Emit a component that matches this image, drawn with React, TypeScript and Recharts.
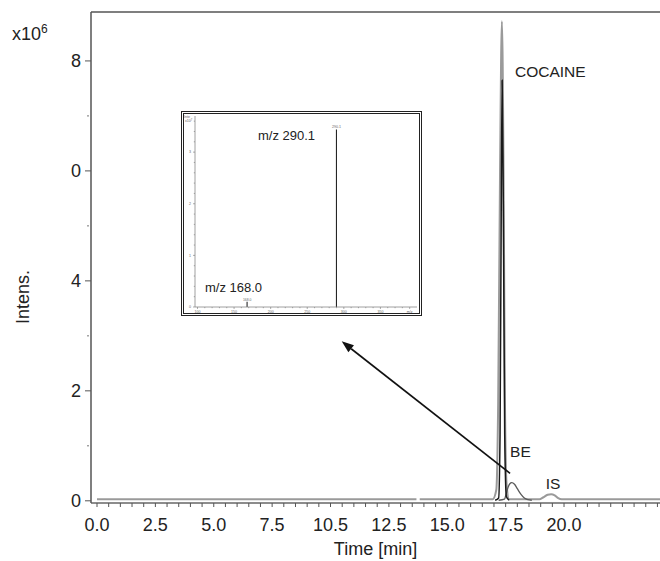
import React from 'react';
import {
  LineChart, Line, XAxis, YAxis, ReferenceLine, ReferenceDot,
  BarChart, Bar,
} from 'recharts';

const FONT = '"Liberation Sans", Arial, Helvetica, sans-serif';

// chromatogram, time in min, intensity in 1e6 counts
const ticTimes = [0, 13.68, 13.75, 13.82, 16.95, 17.1, 17.18, 17.26, 17.34, 17.41, 17.47, 17.54, 17.65, 18.95, 19.1, 19.3, 19.45, 19.6, 19.75, 19.9, 24.11];
const ticValues = [0.03, 0.03, null, 0.03, 0.03, 0.2, 1.8, 6.0, 8.72, 6.0, 1.8, 0.3, 0.03, 0.03, 0.06, 0.11, 0.12, 0.1, 0.05, 0.03, 0.03];

const cocaineTimes = [17.05, 17.2, 17.26, 17.31, 17.35, 17.4, 17.46, 17.53, 17.65];
const cocaineValues = [0.01, 0.05, 1.2, 5.2, 7.65, 5.4, 1.2, 0.08, 0.01];

const beTimes = [17.2, 17.45, 17.52, 17.6, 17.68, 17.76, 17.88, 18.0, 18.15, 18.3, 18.45, 18.62];
const beValues = [0.01, 0.03, 0.12, 0.24, 0.31, 0.33, 0.3, 0.22, 0.12, 0.05, 0.02, 0.01];

// axis ticks
const xMajor = [0, 2.5, 5, 7.5, 10, 12.5, 15, 17.5, 20];
const xLabels = ['0.0', '2.5', '5.0', '7.5', '10.5', '12.5', '15.0', '17.5', '20.0'];
const yMajor = [0, 2, 4, 6, 8];
const yLabels = ['0', '2', '4', '0', '8'];

// inset mass spectrum
const spectrumMz = [168.0, 290.1];
const spectrumInt = [0.1, 3.44];
const insetXMajor = [100, 150, 200, 250, 300, 350, 390];
const insetXLabels = ['100', '150', '200', '250', '300', '350', 'm/z'];
const insetYMajor = [0, 1, 2, 3];

const X_DOMAIN: [number, number] = [-0.257, 24.11];
const Y_TOP = 8.89;

const range = (a: number, b: number, step: number) => {
  const out: number[] = [];
  for (let v = a; v <= b + 1e-9; v += step) out.push(Math.round(v * 100) / 100);
  return out;
};

const toPoints = (ts: number[], vs: (number | null)[]) => ts.map((t, i) => ({ t, v: vs[i] }));

const ticData = toPoints(ticTimes, ticValues);
const cocaineData = toPoints(cocaineTimes, cocaineValues);
const beData = toPoints(beTimes, beValues);
const spectrumData = spectrumMz.map((mz, i) => ({ mz, i: spectrumInt[i] }));

const XTick = ({ x, y, payload }: any) => {
  const idx = xMajor.indexOf(payload.value);
  return (
    <g>
      <line x1={x} x2={x} y1={y} y2={y + 4} stroke="#555" />
      {idx >= 0 && (
        <text x={x} y={y + 27.5} textAnchor="middle" fontSize={18} fill="#222" fontFamily={FONT}>
          {xLabels[idx]}
        </text>
      )}
    </g>
  );
};

const YTick = ({ x, y, payload }: any) => {
  const idx = yMajor.indexOf(payload.value);
  if (idx < 0) return <line x1={x - 4} x2={x - 2} y1={y} y2={y} stroke="#777" />;
  return (
    <g>
      <line x1={x - 6} x2={x} y1={y} y2={y} stroke="#555" />
      <text x={x - 10} y={y + 6.5} textAnchor="end" fontSize={18} fill="#222" fontFamily={FONT}>
        {yLabels[idx]}
      </text>
    </g>
  );
};

const YTitle = () => (
  <g fontFamily={FONT} fill="#222">
    <text x={12} y={40} fontSize={18}>
      x10<tspan dy={-7} fontSize={12}>6</tspan>
    </text>
    <text x={29} y={297} fontSize={18} textAnchor="middle" transform="rotate(-90 29 297)">
      Intens.
    </text>
  </g>
);

const XTitle = () => (
  <text x={375.5} y={555} fontSize={18} textAnchor="middle" fill="#222" fontFamily={FONT}>
    Time [min]
  </text>
);

const Arrow = (p: any) => {
  const { x1, y1, x2, y2 } = p;
  const ang = Math.atan2(y2 - y1, x2 - x1);
  const L = 12;
  const W = 4.5;
  const bx = x2 - L * Math.cos(ang);
  const by = y2 - L * Math.sin(ang);
  const px = -Math.sin(ang) * W;
  const py = Math.cos(ang) * W;
  return (
    <g>
      <line x1={x1} y1={y1} x2={bx} y2={by} stroke="#111" strokeWidth={1.6} />
      <polygon points={`${x2},${y2} ${bx + px},${by + py} ${bx - px},${by - py}`} fill="#111" />
    </g>
  );
};

const InsetXTick = ({ x, y, payload }: any) => {
  const idx = insetXMajor.indexOf(payload.value);
  return (
    <g>
      <line x1={x} x2={x} y1={y} y2={y + (idx >= 0 ? 2 : 1.2)} stroke="#777" strokeWidth={0.6} />
      {idx >= 0 && (
        <text x={x} y={y + 5.5} textAnchor="middle" fontSize={3.6} fill="#666" fontFamily={FONT}>
          {insetXLabels[idx]}
        </text>
      )}
    </g>
  );
};

const InsetYTick = ({ x, y, payload }: any) => {
  const idx = insetYMajor.indexOf(payload.value);
  return (
    <g>
      <line x1={x - (idx >= 0 ? 2 : 1.2)} x2={x} y1={y} y2={y} stroke="#777" strokeWidth={0.6} />
      {idx >= 0 && (
        <text x={x - 4} y={y + 1.3} textAnchor="end" fontSize={3.6} fill="#666" fontFamily={FONT}>
          {insetYMajor[idx]}
        </text>
      )}
    </g>
  );
};

const InsetYTitle = () => (
  <g fontFamily={FONT} fill="#666" fontSize={3.6}>
    <text x={0} y={4}>Inte</text>
    <text x={1} y={8}>x10<tspan dy={-1} fontSize={2.6}>7</tspan></text>
  </g>
);

const Inset = () => (
  <div
    style={{
      position: 'absolute', left: 181, top: 111, width: 241, height: 205,
      boxSizing: 'border-box', border: '3px double #222', background: '#fff',
    }}
  >
    <BarChart
      width={235}
      height={199}
      data={spectrumData}
      margin={{ top: 2, right: 2, bottom: 0, left: 0 }}
      barSize={1}
    >
      <XAxis
        type="number"
        dataKey="mz"
        domain={[96.6, 400]}
        ticks={range(100, 390, 10)}
        interval={0}
        height={6}
        tickSize={0}
        tickMargin={0}
        tick={<InsetXTick />}
        stroke="#888"
        strokeWidth={0.8}
      />
      <YAxis
        type="number"
        domain={[0, 3.7]}
        ticks={range(0, 3.6, 0.2)}
        interval={0}
        width={11}
        tickSize={0}
        tickMargin={0}
        tick={<InsetYTick />}
        stroke="#888"
        strokeWidth={0.8}
        label={{ value: 'Intens. x10^7', content: InsetYTitle }}
      />
      <Bar dataKey="i" fill="#111" isAnimationActive={false} />
      <ReferenceDot x={290.1} y={3.44} r={0} fill="none" stroke="none"
        label={{ value: '290.1', position: 'top', offset: 1.5, fontSize: 3.6, fill: '#666', fontFamily: FONT }} />
      <ReferenceDot x={168.0} y={0.1} r={0} fill="none" stroke="none"
        label={{ value: '168.0', position: 'top', offset: 0.5, fontSize: 3.4, fill: '#666', fontFamily: FONT }} />
      <ReferenceDot x={182.7} y={3.33} r={0} fill="none" stroke="none"
        label={{ value: 'm/z 290.1', position: 'right', offset: 0, fontSize: 13, fill: '#222', fontFamily: FONT }} />
      <ReferenceDot x={110.3} y={0.38} r={0} fill="none" stroke="none"
        label={{ value: 'm/z 168.0', position: 'right', offset: 0, fontSize: 13, fill: '#222', fontFamily: FONT }} />
    </BarChart>
  </div>
);

export default function App() {
  return (
    <div style={{ position: 'absolute', left: 0, top: 0, width: 660, height: 561, background: '#fff' }}>
      <LineChart width={660} height={561} margin={{ top: 12, right: 0, bottom: 0, left: 0 }}>
        <XAxis
          type="number"
          dataKey="t"
          domain={X_DOMAIN}
          allowDataOverflow
          ticks={range(0, 24, 0.5)}
          interval={0}
          height={58}
          tickSize={0}
          tickMargin={0}
          tick={<XTick />}
          stroke="#666"
          strokeWidth={1.5}
          label={{ value: 'Time [min]', content: XTitle }}
        />
        <YAxis
          type="number"
          domain={[-0.04, Y_TOP]}
          allowDataOverflow
          ticks={range(0, 8, 1)}
          interval={0}
          width={91}
          tickSize={0}
          tickMargin={0}
          tick={<YTick />}
          stroke="#555"
          strokeWidth={1.5}
          label={{ value: 'Intens.', content: YTitle }}
        />
        <ReferenceLine y={Y_TOP} stroke="#555" strokeWidth={1.5} />
        <Line data={ticData} dataKey="v" type="monotone" stroke="#9a9a9a" strokeWidth={2}
          dot={false} connectNulls={false} isAnimationActive={false} />
        <Line data={beData} dataKey="v" type="monotone" stroke="#5a5a5a" strokeWidth={1.3}
          dot={false} isAnimationActive={false} />
        <Line data={cocaineData} dataKey="v" type="monotone" stroke="#1a1a1a" strokeWidth={1.5}
          dot={false} isAnimationActive={false} />
        <ReferenceLine
          segment={[{ x: 17.69, y: 0.5 }, { x: 10.48, y: 2.9 }]}
          shape={Arrow}
        />
        <ReferenceDot x={17.9} y={7.8} r={0} fill="none" stroke="none"
          label={{ value: 'COCAINE', position: 'right', offset: 0, fontSize: 15.5, fill: '#222', fontFamily: FONT }} />
        <ReferenceDot x={17.69} y={0.9} r={0} fill="none" stroke="none"
          label={{ value: 'BE', position: 'right', offset: 0, fontSize: 15.5, fill: '#222', fontFamily: FONT }} />
        <ReferenceDot x={19.22} y={0.32} r={0} fill="none" stroke="none"
          label={{ value: 'IS', position: 'right', offset: 0, fontSize: 15.5, fill: '#222', fontFamily: FONT }} />
      </LineChart>
      <Inset />
    </div>
  );
}
